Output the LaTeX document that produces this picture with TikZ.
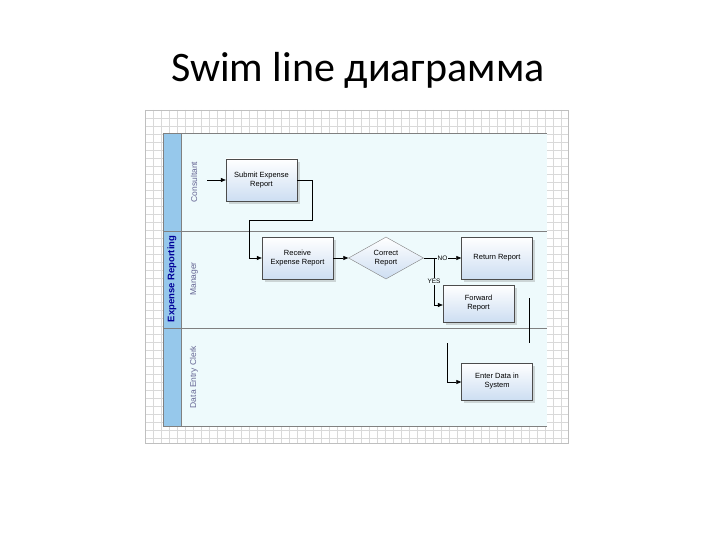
\documentclass[tikz,border=0pt]{standalone}
\usepackage{fontspec}
\setmainfont{Liberation Sans}
\newfontfamily\titlefont{Carlito}
\usetikzlibrary{shapes.geometric,arrows.meta,shadows}
\definecolor{lanebg}{RGB}{238,250,252}
\definecolor{barbg}{RGB}{150,200,235}
\definecolor{boxtop}{RGB}{255,255,255}
\definecolor{boxbot}{RGB}{205,222,242}
\tikzset{
 proc/.style={draw=black!70,top color=boxtop,bottom color=boxbot,minimum width=71pt,minimum height=42pt,font=\fontsize{7.5}{9}\selectfont,align=center,inner sep=1pt, drop shadow={opacity=0.3}},
 dec/.style={draw=black!50,diamond,aspect=1.8,top color=boxtop,bottom color=boxbot,minimum width=75pt,minimum height=42pt,font=\fontsize{7.5}{9}\selectfont,align=center,inner sep=0pt},
 flow/.style={draw=black,line width=0.6pt,-{Triangle[length=5pt,width=4pt]}},
 lanetxt/.style={rotate=90,font=\fontsize{8.5}{9}\selectfont,text=blue!30!black!60}
}
\begin{document}
\begin{tikzpicture}[x=1pt,y=-1pt]
\useasboundingbox (0,0) rectangle (720,540);
\fill[white] (0,0) rectangle (720,540);
\node[font=\titlefont\fontsize{42}{46}\selectfont] (title) at (358,70) {Swim line диаграмма};
% grid
\foreach \i in {0,...,52} {\draw[black!15,line width=0.3pt] (145+\i*8,110) -- (145+\i*8,443);}
\foreach \j in {0,...,41} {\draw[black!15,line width=0.3pt] (145,110+\j*8) -- (568,110+\j*8);}
\draw[black!25] (145,110) rectangle (568,443);
% pool
\fill[lanebg] (163,133) rectangle (547,426);
\fill[barbg] (163,133) rectangle (181,426);
\draw[black!50,line width=0.5pt] (163,133) -- (547,133) (163,231) -- (547,231) (163,328) -- (547,328) (163,426) -- (547,426) (163,133) -- (163,426) (181,133) -- (181,426);
\node[rotate=90,font=\bfseries\fontsize{9.5}{10}\selectfont,text=blue!60!black] (pool) at (172,279) {Expense Reporting};
\node[lanetxt] (l1) at (194,182) {Consultant};
\node[lanetxt] (l2) at (194,279) {Manager};
\node[lanetxt] (l3) at (194,377) {Data Entry Clerk};
% nodes
\node[proc] (submit) at (261.5,180) {Submit Expense\\Report};
\node[proc] (receive) at (297.5,258) {Receive\\Expense Report};
\node[dec] (check) at (386,258) {Correct\\Report};
\node[proc] (ret) at (497,258) {Return Report};
\node[proc,minimum height=37pt] (fwd) at (478.5,303.5) {Forward\\Report};
\node[proc,minimum height=37pt] (enter) at (497,381.5) {Enter Data in\\System};
\coordinate (start) at (207,180);
\coordinate (a1) at (529,298);
\coordinate (a2) at (529,343);
\coordinate (b1) at (447,343);
% connectors
\draw[flow] (start) -- (submit.west);
\draw[flow] (submit.east) -- ++(15,0) |- (249,220) |- (receive.west);
\draw[flow] (receive.east) -- (check.west);
\draw[flow] (check.east) -- node[fill=lanebg,inner sep=1pt,font=\fontsize{6.5}{7}\selectfont]{NO} (ret.west);
\draw[flow] (434,258) -- node[fill=lanebg,inner sep=1pt,font=\fontsize{6.5}{7}\selectfont,pos=0.5]{YES} (434,305) -- (fwd.west |- 0,305);
\draw[black,line width=0.6pt] (a1) -- (a2);
\draw[flow] (b1) |- (enter.west |- 0,382);
\end{tikzpicture}
\end{document}
